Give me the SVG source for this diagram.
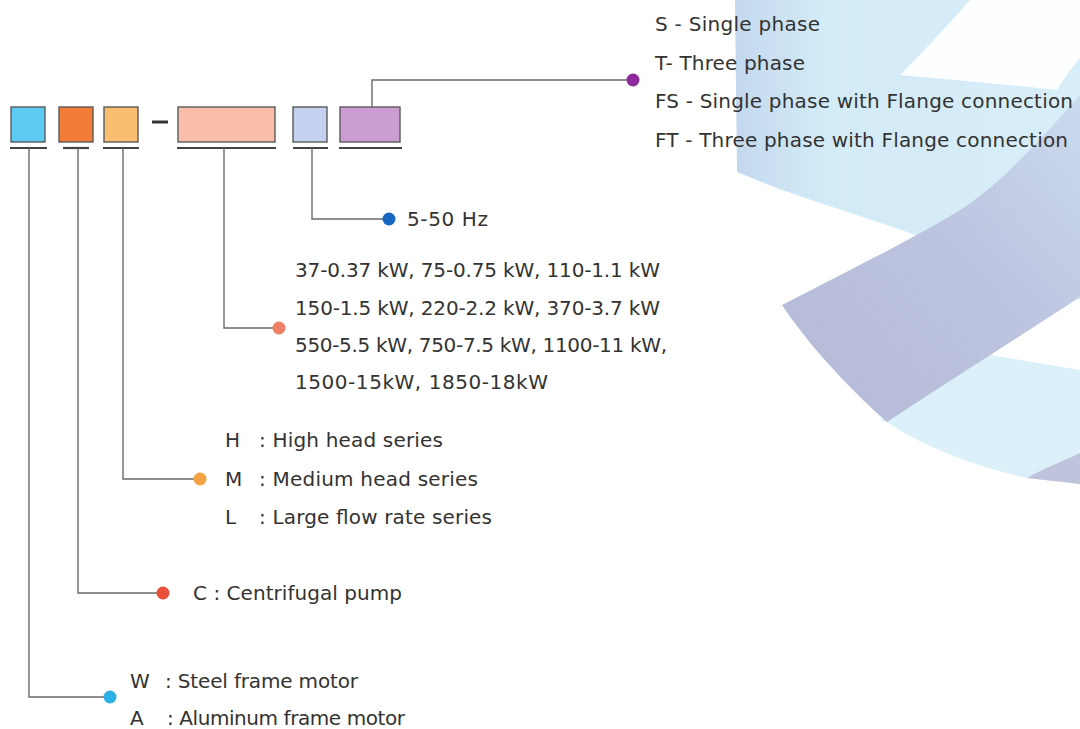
<svg xmlns="http://www.w3.org/2000/svg" width="1080" height="729" viewBox="0 0 1080 729">
<style>
  text { font-family: "DejaVu Sans", "Liberation Sans", sans-serif; font-size: 20px; fill: #333333; }
  .box { stroke: #5a5a5a; stroke-width: 1.4; }
  .ul { stroke: #444; stroke-width: 2.2; }
  .conn { fill: none; stroke: #6a6a6a; stroke-width: 1.4; }
</style>
<defs>
  <linearGradient id="gBlue" x1="0" y1="0" x2="1" y2="0">
    <stop offset="0" stop-color="#c3d8ee"/>
    <stop offset="0.25" stop-color="#d3ebf7"/>
    <stop offset="1" stop-color="#d8eef9"/>
  </linearGradient>
  <linearGradient id="gGrey" x1="0" y1="1" x2="1" y2="0">
    <stop offset="0" stop-color="#b5b9d6"/>
    <stop offset="0.55" stop-color="#bcc4df"/>
    <stop offset="1" stop-color="#cbdaee"/>
  </linearGradient>
</defs>
<rect width="1080" height="729" fill="#ffffff"/>
<g id="background">
  <path d="M735,0 H1080 V150 L1080,300 L907,232 C850,212 790,195 737,172 Z" fill="url(#gBlue)"/>
  <path d="M970,0 H1080 V58 C1070,70 1063,80 1057,90 C1000,84 945,79 900,75 C925,50 948,25 970,0 Z" fill="#ffffff" opacity="0.95"/>
  <path d="M880,420 L990,355 L1080,370 V483 C1060,481 1040,480 1027,478 C970,465 920,445 887,422 Z" fill="#dbf0f9"/>
  <path d="M782,305 C850,270 920,235 960,210 C1000,185 1045,135 1080,95 V297 C1030,330 950,380 887,422 C845,385 805,340 782,305 Z" fill="url(#gGrey)"/>
  <path d="M1027,478 C1045,468 1065,460 1080,453 V484 Z" fill="#bfc3dc"/>
</g>
<g id="code">
  <g id="box-motor"><rect class="box" x="11" y="107" width="34" height="35" fill="#5ccaf2"/><line class="ul" x1="10" y1="148" x2="47" y2="148"/></g>
  <g id="box-pump"><rect class="box" x="59" y="107" width="34" height="35" fill="#f27b36"/><line class="ul" x1="63" y1="148" x2="89" y2="148"/></g>
  <g id="box-series"><rect class="box" x="104" y="107" width="34" height="35" fill="#f9be70"/><line class="ul" x1="103" y1="148" x2="139" y2="148"/></g>
  <line id="dash" x1="152" y1="122" x2="168" y2="122" stroke="#333" stroke-width="3"/>
  <g id="box-power"><rect class="box" x="178" y="107" width="97" height="35" fill="#f9bda9"/><line class="ul" x1="177" y1="148" x2="276" y2="148"/></g>
  <g id="box-freq"><rect class="box" x="293" y="107" width="34" height="35" fill="#c4d0ef"/><line class="ul" x1="293" y1="148" x2="328" y2="148"/></g>
  <g id="box-phase"><rect class="box" x="340" y="107" width="60" height="35" fill="#cc9dd3"/><line class="ul" x1="339" y1="148" x2="402" y2="148"/></g>
</g>
<g id="connectors">
  <polyline class="conn" points="372,107 372,80 632,80"/>
  <polyline class="conn" points="312,148 312,219 389,219"/>
  <polyline class="conn" points="224,148 224,328 278,328"/>
  <polyline class="conn" points="123,148 123,479 200,479"/>
  <polyline class="conn" points="78,148 78,593 163,593"/>
  <polyline class="conn" points="29,148 29,697 110,697"/>
</g>
<g id="node-phase">
  <circle cx="633" cy="80" r="6.5" fill="#8e2a9c"/>
  <text x="655" y="31" textLength="165" lengthAdjust="spacing">S - Single phase</text>
  <text x="655" y="69.5" textLength="150" lengthAdjust="spacing">T- Three phase</text>
  <text x="655" y="108" textLength="418" lengthAdjust="spacing">FS - Single phase with Flange connection</text>
  <text x="655" y="146.5" textLength="413" lengthAdjust="spacing">FT - Three phase with Flange connection</text>
</g>
<g id="node-freq">
  <circle cx="389" cy="219" r="6.5" fill="#1666c2"/>
  <text x="407" y="226" textLength="81" lengthAdjust="spacing">5-50 Hz</text>
</g>
<g id="node-power">
  <circle cx="279" cy="328" r="6.5" fill="#f07f67"/>
  <text x="295" y="277" textLength="365" lengthAdjust="spacing">37-0.37 kW, 75-0.75 kW, 110-1.1 kW</text>
  <text x="295" y="315" textLength="365" lengthAdjust="spacing">150-1.5 kW, 220-2.2 kW, 370-3.7 kW</text>
  <text x="295" y="352" textLength="372" lengthAdjust="spacing">550-5.5 kW, 750-7.5 kW, 1100-11 kW,</text>
  <text x="295" y="389" textLength="253" lengthAdjust="spacing">1500-15kW, 1850-18kW</text>
</g>
<g id="node-series">
  <circle cx="200" cy="479" r="6.5" fill="#f4a340"/>
  <text x="225" y="447">H</text><text x="259" y="447" textLength="184" lengthAdjust="spacing">: High head series</text>
  <text x="225" y="486">M</text><text x="259" y="486" textLength="219" lengthAdjust="spacing">: Medium head series</text>
  <text x="225" y="524">L</text><text x="259" y="524" textLength="233" lengthAdjust="spacing">: Large flow rate series</text>
</g>
<g id="node-pump">
  <circle cx="163" cy="593" r="6.5" fill="#e9503a"/>
  <text x="193" y="600" textLength="209" lengthAdjust="spacing">C : Centrifugal pump</text>
</g>
<g id="node-motor">
  <circle cx="110" cy="697" r="6.5" fill="#2db0e6"/>
  <text x="130" y="688">W</text><text x="165" y="688" textLength="193" lengthAdjust="spacing">: Steel frame motor</text>
  <text x="130" y="725">A</text><text x="167" y="725" textLength="238" lengthAdjust="spacing">: Aluminum frame motor</text>
</g>
</svg>
